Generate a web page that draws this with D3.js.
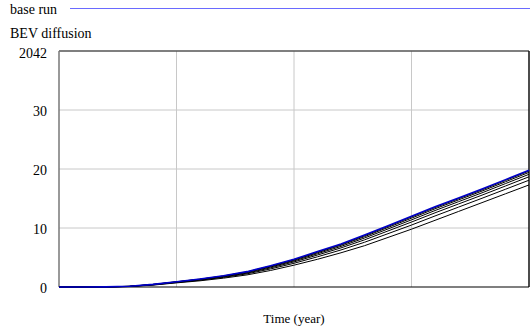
<!DOCTYPE html>
<html><head><meta charset="utf-8">
<script src="https://cdn.jsdelivr.net/npm/d3@7"></script>
<style>body{margin:0;background:#fff}svg{display:block}</style>
</head><body>
<script>
const years = [0,2,4,6,8,10,12,14,16,18,20,22,24,26,28,30,32,34,36,38,40];
const baseRun = [0,0,0.02,0.12,0.45,0.9,1.35,1.9,2.6,3.6,4.7,6.0,7.3,8.8,10.4,12.0,13.6,15.1,16.6,18.2,19.8];
const sens1 = [0,0,0.02,0.12,0.44,0.89,1.33,1.88,2.57,3.55,4.64,5.92,7.21,8.69,10.28,11.87,13.46,14.96,16.46,18.06,19.65];
const sens2 = [0,0,0.02,0.11,0.43,0.87,1.31,1.84,2.52,3.48,4.55,5.81,7.08,8.53,10.1,11.67,13.26,14.76,16.26,17.84,19.43];
const sens3 = [0,0,0.02,0.11,0.41,0.84,1.27,1.79,2.45,3.38,4.42,5.64,6.88,8.3,9.84,11.38,12.96,14.46,15.96,17.53,19.1];
const sens4 = [0,0,0.02,0.10,0.39,0.81,1.22,1.72,2.35,3.24,4.25,5.42,6.63,7.99,9.5,11.01,12.57,14.07,15.57,17.12,18.68];
const sens5 = [0,0,0.01,0.09,0.36,0.76,1.15,1.63,2.23,3.06,4.02,5.12,6.28,7.58,9.04,10.5,12.04,13.54,15.04,16.57,18.1];
const sens6 = [0,0,0.01,0.08,0.32,0.7,1.05,1.5,2.05,2.8,3.7,4.7,5.8,7.0,8.4,9.8,11.3,12.8,14.3,15.8,17.3];
const sensRuns = [sens1,sens2,sens3,sens4,sens5,sens6];
const yTickValues = [0,10,20,30];
const yTopLabel = "2042";
const xGridValues = [10,20,30];

const FONT = "'Liberation Serif', 'Times New Roman', 'DejaVu Serif', serif";
const W=530,H=330;
const svg=d3.select("body").append("svg").attr("width",W).attr("height",H)
  .attr("font-family",FONT);
const L=59,R=529,T=51,B=287;
const x=d3.scaleLinear().domain([0,40]).range([L,R]);
const y=d3.scaleLinear().domain([0,40]).range([B,T]);

// gridlines
svg.append("g").selectAll("line").data(xGridValues).join("line")
  .attr("x1",d=>x(d)).attr("x2",d=>x(d)).attr("y1",T).attr("y2",B)
  .attr("stroke","#c8c8c8").attr("stroke-width",1);
svg.append("g").selectAll("line").data(yTickValues.filter(d=>d>0)).join("line")
  .attr("x1",L).attr("x2",R).attr("y1",d=>y(d)).attr("y2",d=>y(d))
  .attr("stroke","#c8c8c8").attr("stroke-width",1);

// frame
svg.append("line").attr("x1",L).attr("x2",R).attr("y1",T).attr("y2",T).attr("stroke","#555").attr("stroke-width",1.5);
svg.append("line").attr("x1",L).attr("x2",L).attr("y1",T).attr("y2",B).attr("stroke","#777").attr("stroke-width",1.5);
svg.append("line").attr("x1",R).attr("x2",R).attr("y1",T).attr("y2",B).attr("stroke","#111").attr("stroke-width",1.5);
svg.append("line").attr("x1",L).attr("x2",R).attr("y1",B).attr("y2",B).attr("stroke","#000").attr("stroke-width",1.2);

// y labels
const yl=svg.append("g").attr("font-family",FONT);
yl.selectAll("text").data(yTickValues).join("text")
  .attr("x",47).attr("y",d=>y(d)+1.5).attr("dy","0.35em").attr("text-anchor","end")
  .attr("font-size",14).attr("fill","#000").text(d=>d);
yl.append("text").attr("x",47).attr("y",y(40)+2).attr("dy","0.35em").attr("text-anchor","end")
  .attr("font-size",14).attr("fill","#000").text(yTopLabel);

const line=d3.line().x((d,i)=>x(years[i])).y(d=>y(d));
svg.append("g").selectAll("path").data(sensRuns).join("path")
  .attr("d",line).attr("fill","none").attr("stroke","#000").attr("stroke-width",1);
svg.append("path").datum(baseRun).attr("d",line).attr("fill","none").attr("stroke","#0000c8").attr("stroke-width",1.6);

// legend & titles
svg.append("text").attr("x",10).attr("y",14).attr("font-size",14).attr("font-family",FONT).text("base run");
svg.append("line").attr("x1",70).attr("x2",530).attr("y1",8.5).attr("y2",8.5).attr("stroke","#6a6aff").attr("stroke-width",1.2);
svg.append("text").attr("x",10).attr("y",38).attr("font-size",14).attr("font-family",FONT).text("BEV diffusion");
svg.append("text").attr("x",(L+R)/2).attr("y",323).attr("text-anchor","middle").attr("font-size",13).attr("font-family",FONT).text("Time (year)");
</script>
</body></html>
